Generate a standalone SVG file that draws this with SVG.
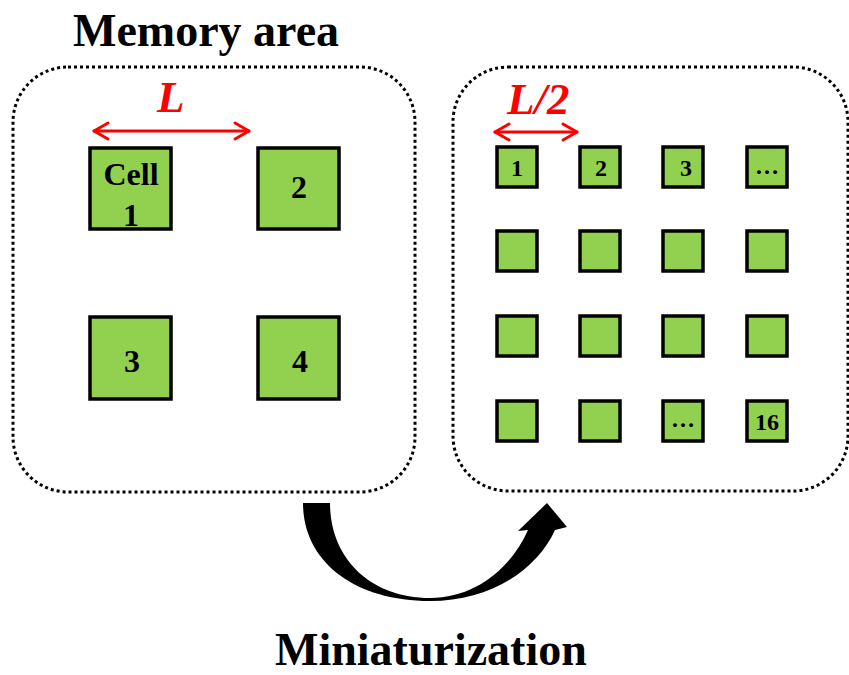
<svg xmlns="http://www.w3.org/2000/svg" width="849" height="675" viewBox="0 0 849 675">
  <defs>
    <style>
      .area { fill: none; stroke: #000; stroke-width: 3; stroke-dasharray: 3 3; }
      .cell { fill: #92d050; stroke: #000; stroke-width: 3.5; }
      .lbl { font-family: "Liberation Serif", "Times New Roman", serif; font-weight: bold; fill: #000; text-anchor: middle; }
      .big { font-size: 32px; }
      .small { font-size: 24px; }
      .title { font-family: "Liberation Serif", "Times New Roman", serif; font-weight: bold; font-size: 46px; fill: #000; }
      .dim { font-family: "Liberation Serif", "Times New Roman", serif; font-weight: bold; font-style: italic; font-size: 45px; fill: #ff0000; }
      .dimline { stroke: #ff0000; stroke-width: 3; fill: none; stroke-linecap: round; stroke-linejoin: round; }
    </style>
  </defs>

  <rect width="849" height="675" fill="#fff"/>

  <!-- titles -->
  <text class="title" x="73" y="46">Memory area</text>
  <text class="title" x="275" y="665">Miniaturization</text>

  <!-- memory areas -->
  <g id="area-large">
    <rect class="area" x="13" y="67" width="402" height="425" rx="55" ry="55"/>
  </g>
  <g id="area-small">
    <rect class="area" x="453" y="67" width="395" height="424" rx="55" ry="55"/>
  </g>

  <!-- pitch dimensions (double-headed open arrows) -->
  <g id="dim-L">
    <line class="dimline" x1="94" y1="131" x2="249" y2="131"/>
    <polyline class="dimline" points="108,123 94,131 108,139"/>
    <polyline class="dimline" points="235,123 249,131 235,139"/>
    <text class="dim" x="157" y="112">L</text>
  </g>
  <g id="dim-L2">
    <line class="dimline" x1="495" y1="132" x2="577" y2="132"/>
    <polyline class="dimline" points="509,124 495,132 509,140"/>
    <polyline class="dimline" points="563,124 577,132 563,140"/>
    <text class="dim" x="507" y="114">L/2</text>
  </g>

  <!-- large cells -->
  <g id="cell-1">
    <rect class="cell" x="90" y="148" width="81" height="81"/>
    <text class="lbl big" x="131" y="185">Cell</text>
    <text class="lbl big" x="131" y="226">1</text>
  </g>
  <g id="cell-2">
    <rect class="cell" x="258" y="148" width="81" height="81"/>
    <text class="lbl big" x="299" y="198">2</text>
  </g>
  <g id="cell-3">
    <rect class="cell" x="90" y="317" width="81" height="82"/>
    <text class="lbl big" x="132" y="372">3</text>
  </g>
  <g id="cell-4">
    <rect class="cell" x="258" y="317" width="81" height="82"/>
    <text class="lbl big" x="300" y="372">4</text>
  </g>

  <!-- small cells, 4 x 4 -->
  <g id="s1"><rect class="cell" x="497" y="147" width="40" height="40"/><text class="lbl small" x="517" y="176">1</text></g>
  <g id="s2"><rect class="cell" x="580" y="147" width="40" height="40"/><text class="lbl small" x="601" y="176">2</text></g>
  <g id="s3"><rect class="cell" x="663" y="147" width="40" height="40"/><text class="lbl small" x="686" y="176">3</text></g>
  <g id="s4"><rect class="cell" x="747" y="147" width="40" height="40"/><text class="lbl small" x="767" y="174">…</text></g>

  <g id="s5"><rect class="cell" x="497" y="231" width="40" height="40"/></g>
  <g id="s6"><rect class="cell" x="580" y="231" width="40" height="40"/></g>
  <g id="s7"><rect class="cell" x="663" y="231" width="40" height="40"/></g>
  <g id="s8"><rect class="cell" x="747" y="231" width="40" height="40"/></g>

  <g id="s9"><rect class="cell" x="497" y="316" width="40" height="40"/></g>
  <g id="s10"><rect class="cell" x="580" y="316" width="40" height="40"/></g>
  <g id="s11"><rect class="cell" x="663" y="316" width="40" height="40"/></g>
  <g id="s12"><rect class="cell" x="747" y="316" width="40" height="40"/></g>

  <g id="s13"><rect class="cell" x="497" y="401" width="40" height="40"/></g>
  <g id="s14"><rect class="cell" x="580" y="401" width="40" height="40"/></g>
  <g id="s15"><rect class="cell" x="663" y="401" width="40" height="40"/><text class="lbl small" x="683" y="427">…</text></g>
  <g id="s16"><rect class="cell" x="747" y="401" width="40" height="40"/><text class="lbl small" x="767" y="430">16</text></g>

  <!-- curved transition arrow -->
  <g id="connectors">
    <path d="M303,503 C303,562 355,601 430,601 C490,601 537,570 555,530 L567,527 L547,503 L518,531 L528,530 C511,568 476,598 430,598 C370,598 330,558 330,503 Z" fill="#000"/>
  </g>
</svg>
